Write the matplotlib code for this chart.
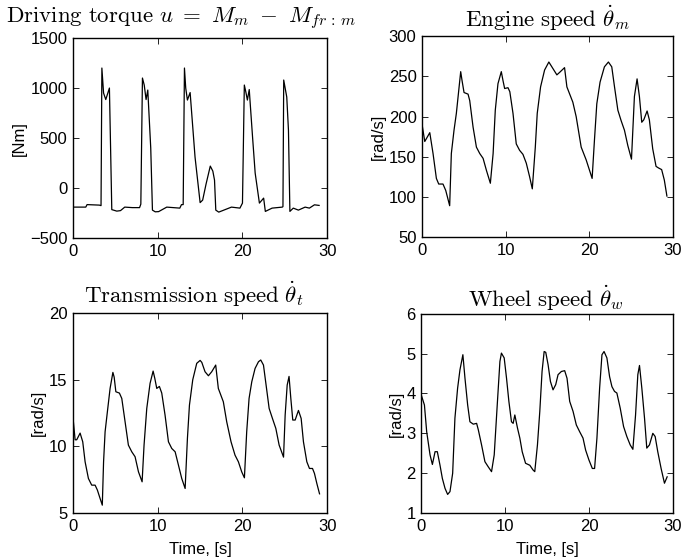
import matplotlib
matplotlib.use("Agg")
import matplotlib.pyplot as plt

plt.rcParams["font.family"] = ["Liberation Sans", "DejaVu Sans"]
plt.rcParams["mathtext.fontset"] = "cm"
plt.rcParams["font.size"] = 12

# Driving torque [Nm]
torque_t = [0.0, 1.5, 1.65, 3.1, 3.3, 3.4, 3.6, 3.86, 4.29, 4.57, 5.16, 5.6, 6.1, 7.0,
            7.85, 8.0, 8.19, 8.4, 8.62, 8.82, 9.17, 9.37, 9.7, 10.1, 11.06, 12.6, 12.8,
            13.0, 13.15, 13.3, 13.5, 13.82, 14.4, 15.0, 15.3, 15.7, 16.2, 16.5, 16.7,
            16.85, 17.2, 18.7, 19.7, 20.0, 20.22, 20.4, 20.58, 20.8, 21.2, 21.5, 22.0,
            22.5, 22.7, 23.5, 24.7, 24.78, 24.87, 25.23, 25.43, 25.6, 26.0, 26.6, 27.4,
            27.9, 28.5, 29.05]
torque_v = [-190, -190, -165, -170, -175, 1200, 950, 885, 1000, -215, -230, -225, -190,
            -195, -195, -160, 1100, 1030, 885, 980, 400, -220, -237, -235, -190, -200,
            -165, -165, 1200, 1000, 880, 955, 310, -145, -120, 40, 220, 170, 80, -220,
            -240, -190, -200, -150, 1030, 960, 880, 985, 500, 150, -150, -100, -233,
            -200, -190, -185, 1080, 910, 580, -233, -200, -220, -190, -200, -167, -173]

# Engine speed [rad/s]
engine_t = [0.0, 0.32, 0.92, 1.31, 1.71, 1.99, 2.5, 2.83, 3.3, 3.5, 3.82, 4.1, 4.3, 4.62,
            4.78, 5.02, 5.5, 5.7, 6.1, 6.5, 6.9, 7.3, 7.7, 8.17, 8.5, 8.76, 9.08, 9.48,
            9.68, 9.88, 10.28, 10.5, 10.88, 11.27, 11.67, 12.07, 12.47, 12.87, 13.19,
            13.55, 13.78, 14.18, 14.66, 15.17, 15.65, 16.13, 16.45, 17.05, 17.33, 18.04,
            18.44, 19.04, 19.64, 20.35, 20.63, 20.91, 21.3, 21.82, 22.3, 22.7, 23.03,
            23.43, 23.82, 24.22, 24.62, 25.06, 25.41, 25.73, 26.01, 26.29, 26.53, 26.93,
            27.2, 27.6, 28.0, 28.3, 28.67, 28.99, 29.3]
engine_v = [190, 169, 180, 154, 123, 116, 116, 108, 89, 154, 183, 204, 224, 256, 245,
            230, 228, 220, 187, 162, 154, 148, 133, 117, 154, 208, 241, 256, 245, 235,
            236, 231, 204, 166, 158, 153, 142, 125, 110, 162, 204, 237, 258, 268, 260,
            252, 255, 261, 237, 218, 200, 162, 146, 123, 171, 216, 243, 262, 268, 262,
            237, 208, 195, 183, 164, 147, 225, 247, 225, 193, 196, 207, 196, 160, 138,
            136, 134, 121, 101]

# Transmission speed [rad/s]
trans_t = [0.0, 0.24, 0.43, 0.83, 1.14, 1.42, 1.81, 2.2, 2.6, 2.87, 3.19, 3.45, 3.6,
           3.78, 4.05, 4.37, 4.7, 4.85, 5.05, 5.47, 5.75, 6.14, 6.53, 6.93, 7.32, 7.72,
           8.15, 8.38, 8.7, 9.09, 9.45, 9.65, 9.88, 10.19, 10.47, 10.86, 11.26, 11.65,
           12.05, 12.44, 12.83, 13.23, 13.5, 13.74, 14.13, 14.6, 15.0, 15.2, 15.58,
           15.98, 16.37, 16.84, 17.15, 17.74, 18.14, 18.65, 19.12, 19.52, 19.91, 20.23,
           20.5, 20.78, 21.1, 21.49, 21.89, 22.16, 22.48, 22.79, 23.15, 23.54, 23.94,
           24.33, 24.85, 25.04, 25.28, 25.5, 25.71, 25.94, 26.22, 26.61, 26.93, 27.2,
           27.6, 27.91, 28.27, 28.5, 28.78, 29.1]
trans_v = [12.1, 10.5, 10.5, 11.0, 10.35, 8.85, 7.6, 7.1, 7.1, 6.73, 6.1, 5.6, 8.85,
           11.1, 12.6, 14.35, 15.55, 15.2, 14.1, 14.0, 13.6, 11.85, 10.1, 9.6, 9.23, 8.1,
           7.35, 10.1, 12.85, 14.73, 15.65, 15.1, 14.35, 14.5, 14.0, 12.35, 10.35, 9.85,
           9.6, 8.6, 7.6, 6.85, 10.6, 13.1, 15.0, 16.23, 16.45, 16.3, 15.6, 15.3, 15.6,
           16.1, 14.35, 13.35, 11.85, 10.35, 9.35, 8.85, 8.1, 7.65, 11.1, 13.6, 14.85,
           15.85, 16.35, 16.48, 16.1, 14.6, 12.85, 12.1, 11.35, 10.1, 9.2, 12.35, 14.6,
           15.25, 13.6, 11.98, 11.98, 12.7, 12.1, 10.35, 8.85, 8.35, 8.35, 7.98, 7.23,
           6.45]

# Wheel speed [rad/s]
wheel_t = [0.0, 0.36, 0.63, 1.03, 1.31, 1.63, 1.9, 2.22, 2.5, 2.82, 3.13, 3.41, 3.73,
           4.0, 4.32, 4.6, 4.95, 5.2, 5.52, 5.79, 6.19, 6.59, 6.79, 7.18, 7.58, 7.98,
           8.37, 8.69, 9.05, 9.37, 9.55, 9.88, 10.16, 10.44, 10.75, 10.95, 11.15, 11.47,
           11.75, 12.03, 12.43, 12.94, 13.33, 13.53, 13.85, 14.13, 14.4, 14.65, 14.84,
           15.12, 15.4, 15.71, 16.03, 16.31, 16.71, 17.1, 17.38, 17.7, 18.1, 18.49, 18.89,
           19.29, 19.6, 20.0, 20.4, 20.67, 20.95, 21.27, 21.55, 21.8, 22.14, 22.46, 22.74,
           23.05, 23.33, 23.73, 24.13, 24.52, 24.92, 25.24, 25.56, 25.83, 26.03, 26.31,
           26.63, 26.9, 27.22, 27.62, 27.9, 28.21, 28.61, 29.01, 29.33]
wheel_v = [3.95, 3.71, 3.04, 2.46, 2.22, 2.54, 2.54, 2.2, 1.87, 1.62, 1.47, 1.54, 2.0,
           3.38, 4.13, 4.59, 4.97, 4.38, 3.71, 3.29, 3.23, 3.25, 3.09, 2.71, 2.29, 2.16,
           2.04, 2.46, 3.71, 4.8, 5.01, 4.89, 4.38, 3.8, 3.29, 3.25, 3.46, 3.13, 2.88,
           2.54, 2.25, 2.2, 2.08, 2.04, 2.71, 3.55, 4.55, 5.05, 5.03, 4.72, 4.3, 4.09,
           4.22, 4.47, 4.55, 4.57, 4.38, 3.8, 3.55, 3.21, 3.04, 2.88, 2.58, 2.33, 2.12,
           2.12, 2.88, 4.13, 4.97, 5.05, 4.89, 4.42, 4.17, 4.05, 4.01, 3.63, 3.17, 2.92,
           2.71, 2.6, 3.46, 4.47, 4.7, 4.13, 3.38, 2.63, 2.71, 3.0, 2.92, 2.54, 2.12,
           1.75, 1.91]

panels = [
    # (t, v, title, title_x, pad, ylabel, ylim, yticks, rect)
    (torque_t, torque_v,
     r"$\mathrm{Driving\ torque}\ u\ =\ M_m\ -\ M_{fr\,:\,m}$", 0.425, 11,
     "[Nm]", (-500, 1500), [-500, 0, 500, 1000, 1500], [0.107, 0.574, 0.372, 0.358]),
    (engine_t, engine_v, r"$\mathrm{Engine\ speed}\ \dot{\theta}_m$", 0.5, 7,
     "[rad/s]", (50, 300), [50, 100, 150, 200, 250, 300], [0.618, 0.576, 0.367, 0.359]),
    (trans_t, trans_v, r"$\mathrm{Transmission\ speed}\ \dot{\theta}_t$", 0.476, 7,
     "[rad/s]", (5, 20), [5, 10, 15, 20], [0.107, 0.082, 0.372, 0.358]),
    (wheel_t, wheel_v, r"$\mathrm{Wheel\ speed}\ \dot{\theta}_w$", 0.496, 5,
     "[rad/s]", (1, 6), [1, 2, 3, 4, 5, 6], [0.617, 0.082, 0.368, 0.357]),
]

fig = plt.figure(figsize=(6.83, 5.59), dpi=100)

for i, (t, v, title, tx, pad, ylab, ylim, yt, rect) in enumerate(panels):
    ax = fig.add_axes(rect)
    ax.plot(t, v, color="black", linewidth=0.9)
    ax.set_xlim(0, 30)
    ax.set_ylim(*ylim)
    ax.set_xticks([0, 10, 20, 30])
    ax.set_yticks(yt)
    ax.tick_params(direction="in", top=True, right=True, length=4, width=0.6,
                   labelsize=12, pad=4)
    for s in ax.spines.values():
        s.set_linewidth(1.0)
    ax.set_ylabel(ylab, fontsize=12, labelpad=2)
    if i >= 2:
        ax.set_xlabel("Time, [s]", fontsize=12, labelpad=6)
    ax.set_title(title, fontsize=16.5, x=tx, pad=pad)

fig.savefig("out.png", dpi=100)
